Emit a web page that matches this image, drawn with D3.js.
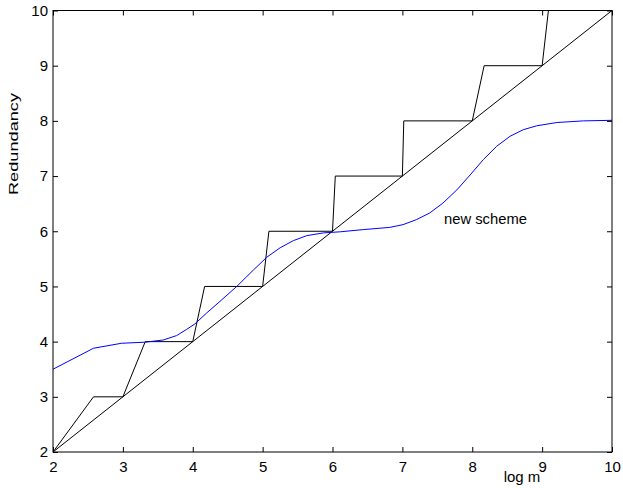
<!DOCTYPE html>
<html>
<head>
<meta charset="utf-8">
<script src="https://cdn.jsdelivr.net/npm/d3@7"></script>
<style>
  body { margin: 0; background: #fff; }
  text { font-family: "Liberation Sans", Arial, Helvetica, sans-serif; }
</style>
</head>
<body>
<div id="chart"></div>
<script>
'use strict'

// staircase (old scheme)
const stairX = [2, 2.58, 3, 3.32, 4, 4.17, 5, 5.09, 6, 6.04, 7, 7.02, 8, 8.17, 9, 9.09]
const stairY = [2, 3, 3, 4, 4, 5, 5, 6, 6, 7, 7, 8, 8, 9, 9, 10]

// lower bound diagonal
const diagX = [2, 10]
const diagY = [2, 10]

// new scheme curve
const newX = [2, 2.58, 2.98, 3.32, 3.58, 3.77, 3.91, 4.03, 4.2, 4.39, 4.63, 4.87, 5.06, 5.25, 5.44, 5.63, 5.87, 6.11,
  6.44, 6.82, 7.01, 7.2, 7.39, 7.58, 7.78, 7.97, 8.16, 8.35, 8.54, 8.73, 8.92, 9.21, 9.59, 10]
const newY = [3.5, 3.88, 3.97, 3.99, 4.03, 4.11, 4.22, 4.32, 4.52, 4.73, 5.0, 5.3, 5.53, 5.7, 5.83, 5.92, 5.97, 5.99,
  6.03, 6.07, 6.12, 6.21, 6.33, 6.51, 6.75, 7.02, 7.3, 7.54, 7.72, 7.84, 7.91, 7.97, 8.0, 8.01]

const xTicks = [2, 3, 4, 5, 6, 7, 8, 9, 10]
const yTicks = [2, 3, 4, 5, 6, 7, 8, 9, 10]

const W = 623, H = 488
const margin = {left: 53, top: 10.5, right: 11, bottom: 36}
const width = W - margin.left - margin.right
const height = H - margin.top - margin.bottom

let svg = d3.select('#chart').append('svg')
  .attr('width', W)
  .attr('height', H)

let g = svg.append('g')
  .attr('transform', 'translate(' + margin.left + ',' + margin.top + ')')

const x = d3.scaleLinear().domain([2, 10]).range([0, width])
const y = d3.scaleLinear().domain([2, 10]).range([height, 0])

// clip so the stair that goes over the top gets cut
g.append('clipPath').attr('id', 'clip')
  .append('rect').attr('width', width).attr('height', height)

const zip = (xs, ys) => xs.map((v, i) => [v, ys[i]])
const line = d3.line().x(d => x(d[0])).y(d => y(d[1]))

let plot = g.append('g').attr('clip-path', 'url(#clip)')

plot.append('path')
  .datum(zip(diagX, diagY))
  .attr('d', line)
  .attr('fill', 'none')
  .attr('stroke', '#000')
  .attr('stroke-width', 1)

plot.append('path')
  .datum(zip(stairX, stairY))
  .attr('d', line)
  .attr('fill', 'none')
  .attr('stroke', '#000')
  .attr('stroke-width', 1)

plot.append('path')
  .datum(zip(newX, newY))
  .attr('d', line)
  .attr('fill', 'none')
  .attr('stroke', '#0000ff')
  .attr('stroke-width', 1)

// axes, ticks pointing inward, on all four sides
const tickLen = 5
let xb = g.append('g').attr('transform', 'translate(0,' + height + ')')
  .call(d3.axisBottom(x).tickValues(xTicks).tickSize(-tickLen).tickPadding(9).tickFormat(d3.format('d')))
let xt = g.append('g')
  .call(d3.axisTop(x).tickValues(xTicks).tickSize(-tickLen).tickFormat(''))
let yl = g.append('g')
  .call(d3.axisLeft(y).tickValues(yTicks).tickSize(-tickLen).tickPadding(5).tickFormat(d3.format('d')))
let yr = g.append('g').attr('transform', 'translate(' + width + ',0)')
  .call(d3.axisRight(y).tickValues(yTicks).tickSize(-tickLen).tickFormat(''))

;[xb, xt, yl, yr].forEach(a => {
  a.select('.domain').remove()
  a.selectAll('line').attr('stroke', '#000')
  a.selectAll('text').attr('font-size', 15).attr('fill', '#000')
    .style('font-family', '"Liberation Sans", Arial, sans-serif')
})

g.append('rect')
  .attr('width', width)
  .attr('height', height)
  .attr('fill', 'none')
  .attr('stroke', '#000')
  .attr('stroke-width', 1)

// labels
svg.append('text')
  .attr('x', 522).attr('y', 482)
  .attr('text-anchor', 'middle')
  .attr('font-size', 15)
  .text('log m')

svg.append('text')
  .attr('transform', 'translate(17.5,144) rotate(-90)')
  .attr('text-anchor', 'middle')
  .attr('font-size', 13)
  .attr('textLength', 102)
  .attr('lengthAdjust', 'spacingAndGlyphs')
  .text('Redundancy')

svg.append('text')
  .attr('x', 444).attr('y', 224)
  .attr('font-size', 14)
  .attr('textLength', 83)
  .attr('lengthAdjust', 'spacingAndGlyphs')
  .text('new scheme')
</script>
</body>
</html>
